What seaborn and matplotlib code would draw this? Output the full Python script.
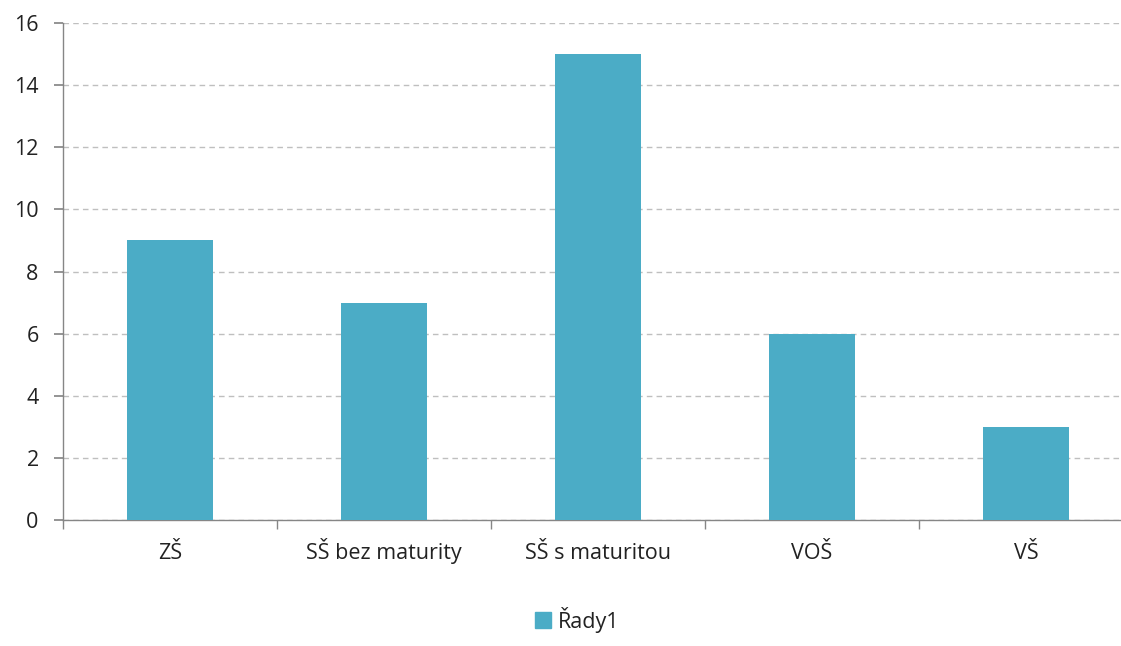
import matplotlib
matplotlib.use("Agg")
import matplotlib.pyplot as plt
import seaborn as sns
import pandas as pd
from matplotlib.patches import Patch

categories = ["ZŠ", "SŠ bez maturity", "SŠ s maturitou", "VOŠ", "VŠ"]
values = [9, 7, 15, 6, 3]
series_name = "Řady1"
yticks = [0, 2, 4, 6, 8, 10, 12, 14, 16]

sns.set_theme(style="white")
plt.rcParams['font.family'] = ['Open Sans', 'DejaVu Sans']

df = pd.DataFrame({"cat": categories, "val": values})

fig = plt.figure(figsize=(11.21, 6.46), dpi=100)
ax = fig.add_axes([63/1121, (646-520)/646, (1133-63)/1121, (520-23)/646])
color = "#4BACC6"
sns.barplot(data=df, x="cat", y="val", color=color, width=0.4, ax=ax,
            saturation=1, zorder=3, edgecolor=color, linewidth=0)

ax.set_xlim(-0.5, len(categories) - 0.5)
ax.set_ylim(0, 16)
ax.set_yticks(yticks)
ax.set_yticklabels([str(t) for t in yticks], fontsize=15.5, color="#222222")
ax.set_xlabel("")
ax.set_ylabel("")
ax.tick_params(axis="x", labelsize=15.5, labelcolor="#222222", length=0, pad=28)
for lab in ax.get_xticklabels():
    lab.set_verticalalignment("baseline")
ax.tick_params(axis="y", length=6.5, color="#868686", pad=11, left=True)
# category boundary ticks
ax.set_xticks([i - 0.5 for i in range(len(categories) + 1)], minor=True)
ax.tick_params(axis="x", which="minor", length=6.5, color="#868686", bottom=True)

ax.yaxis.grid(True, linestyle=(0, (4, 3)), color="#BFBFBF", linewidth=1, zorder=0)
ax.set_axisbelow(True)
for s in ["top", "right"]:
    ax.spines[s].set_visible(False)
for s in ["left", "bottom"]:
    ax.spines[s].set_color("#868686")
    ax.spines[s].set_linewidth(1)

handle = Patch(facecolor=color, edgecolor=color)
fig.legend([handle], [series_name], loc="lower center", bbox_to_anchor=(0.515, 0.004),
           frameon=False, fontsize=15.5, handlelength=0.75, handleheight=0.75,
           handletextpad=0.3, labelcolor="#222222", borderpad=0)

fig.savefig("out.png", dpi=100)
